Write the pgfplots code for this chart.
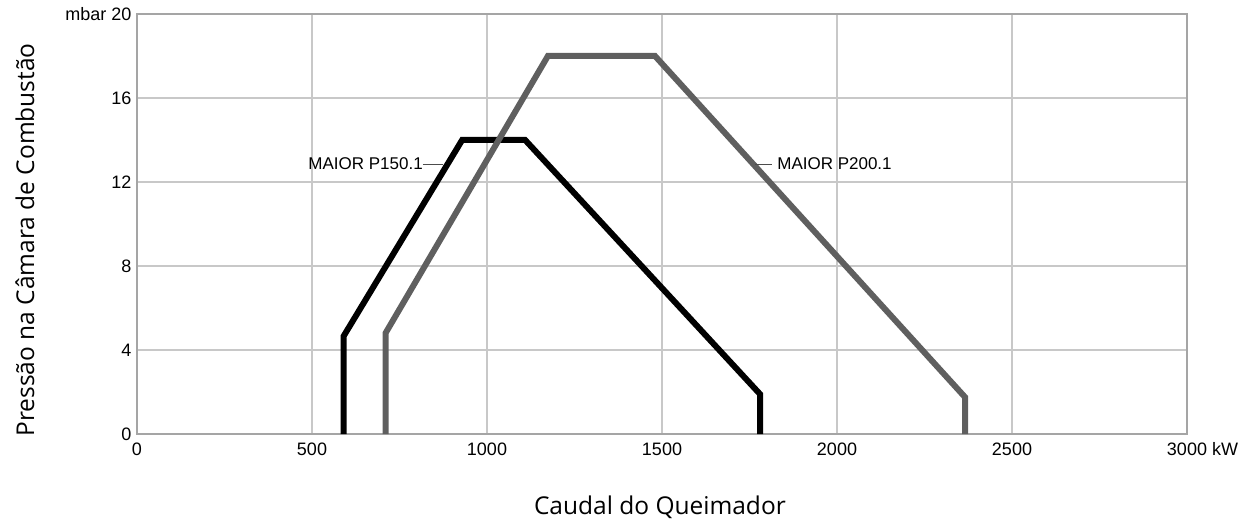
\documentclass[border=0pt]{standalone}
\usepackage{fontspec}
\setmainfont{Liberation Sans}
\newfontfamily\titlefont{Open Sans}
\usepackage{pgfplots}
\pgfplotsset{compat=1.18}
\definecolor{gridc}{RGB}{200,200,200}
\definecolor{framec}{RGB}{165,165,165}
\definecolor{grayline}{RGB}{95,95,95}
\begin{document}
\begin{tikzpicture}
\begin{axis}[
  scale only axis,
  width=1050pt, height=420pt,
  xmin=0, xmax=3000, ymin=0, ymax=20,
  xtick={0,500,1000,1500,2000,2500,3000},
  xticklabels={0,500,1000,1500,2000,2500,{3000\rlap{ kW}}},
  ytick={0,4,8,12,16,20},
  yticklabels={0,4,8,12,16,{\llap{mbar }20}},
  major tick length=0pt,
  grid=major,
  major grid style={gridc, line width=1.3pt},
  axis line style={framec, line width=2pt},
  ticklabel style={font=\fontsize{18}{20}\selectfont, text=black},
  xticklabel style={yshift=-5pt},
  yticklabel style={xshift=-2pt},
  /pgf/number format/assume math mode=true,
  xlabel={Caudal do Queimador},
  ylabel={Pressão na Câmara de Combustão},
  xlabel style={font=\titlefont\fontsize{24.5}{26}\selectfont, at={(axis description cs:0.498,-0.174)}, anchor=center},
  ylabel style={font=\titlefont\fontsize{24.5}{26}\selectfont, at={(axis description cs:-0.1067,0.462)}, anchor=center, rotate=0},
  clip=false,
  axis on top=false,
]
\addplot[black, line width=6pt, line join=miter] coordinates {
  (590,0) (590,4.65) (929,14) (1109,14) (1780,1.9) (1780,0)
};
\addplot[grayline, line width=6pt, line join=miter] coordinates {
  (710,0) (710,4.8) (1174,18) (1480,18) (2366,1.75) (2366,0)
};
\addplot[black!70, line width=0.8pt] coordinates {(817,12.86) (875,12.86)};
\addplot[black!70, line width=0.8pt] coordinates {(1766,12.86) (1814,12.86)};
\node[anchor=east, inner sep=0pt, font=\fontsize{17}{19}\selectfont] at (axis cs:817,12.86) {MAIOR P150.1};
\node[anchor=west, inner sep=0pt, font=\fontsize{17}{19}\selectfont] at (axis cs:1829,12.86) {MAIOR P200.1};
\end{axis}
\pgfresetboundingbox
\path[use as bounding box] ([xshift=-137pt,yshift=-89pt]current axis.south west) rectangle ([xshift=52pt,yshift=14pt]current axis.north east);
\end{tikzpicture}
\end{document}
